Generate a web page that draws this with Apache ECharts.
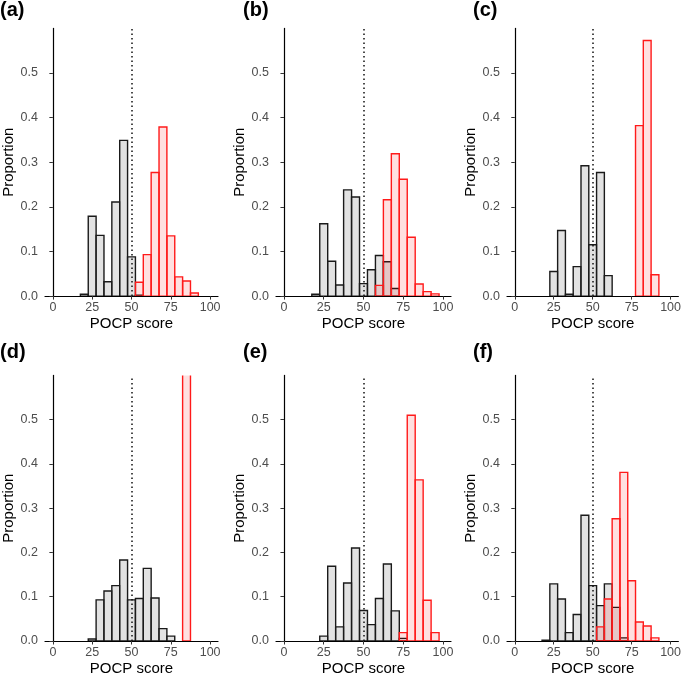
<!DOCTYPE html>
<html>
<head>
<meta charset="utf-8">
<script src="https://cdn.jsdelivr.net/npm/echarts@6/dist/echarts.min.js"></script>
<style>
html,body{margin:0;padding:0;background:#fff;}
#chart{width:684px;height:677px;}
</style>
</head>
<body>
<div id="chart"></div>
<script>
// Bin centres (bin width 5)
const bins = [0,5,10,15,20,25,30,35,40,45,50,55,60,65,70,75,80,85,90,95,100];
const xTicks = [0,25,50,75,100];
const yTicks = [0,0.1,0.2,0.3,0.4,0.5];
const panelLabels = ['(a)','(b)','(c)','(d)','(e)','(f)'];
const threshold = 50;

const grayA = [0,0,0,0,0.004,0.179,0.136,0.032,0.211,0.349,0.088,0.002,0,0,0,0,0,0,0,0,0];
const redA  = [0,0,0,0,0,0,0,0,0,0,0,0.031,0.093,0.277,0.379,0.135,0.043,0.034,0.007,0,0];
const grayB = [0,0,0,0,0.004,0.162,0.078,0.025,0.238,0.222,0.028,0.059,0.091,0.077,0.017,0,0,0,0,0,0];
const redB  = [0,0,0,0,0,0,0,0,0,0,0,0,0.024,0.216,0.319,0.262,0.132,0.027,0.010,0.005,0];
const grayC = [0,0,0,0,0,0.055,0.147,0.004,0.066,0.292,0.115,0.277,0.046,0,0,0,0,0,0,0,0];
const redC  = [0,0,0,0,0,0,0,0,0,0,0,0,0,0,0,0,0.382,0.573,0.048,0,0];
const grayD = [0,0,0,0,0,0.0045,0.093,0.113,0.125,0.183,0.093,0.096,0.164,0.097,0.028,0.011,0,0,0,0,0];
const redD  = [0,0,0,0,0,0,0,0,0,0,0,0,0,0,0,0,0,1.0,0,0,0];
const grayE = [0,0,0,0,0,0.011,0.169,0.032,0.131,0.210,0.069,0.037,0.096,0.174,0.068,0.006,0,0,0,0,0];
const redE  = [0,0,0,0,0,0,0,0,0,0,0,0,0,0,0,0.019,0.510,0.364,0.092,0.019,0];
const grayF = [0,0,0,0,0.002,0.129,0.095,0.019,0.060,0.284,0.125,0.080,0.129,0.076,0.007,0,0,0,0,0,0];
const redF  = [0,0,0,0,0,0,0,0,0,0,0,0.032,0.095,0.276,0.381,0.136,0.043,0.034,0.007,0,0];

const grays = [grayA,grayB,grayC,grayD,grayE,grayF];
const reds  = [redA,redB,redC,redD,redE,redF];

const colLefts = [43, 276, 507];
const rowTops = [28.4, 375.4];
const panelW = 175, panelH = 267.7;
const labelX = [0, 243, 473];
const labelY = [11, 353];

const font = 'Liberation Sans, Arial, Helvetica, sans-serif';

function makeRender(fill, stroke) {
  return function (params, api) {
    const x = api.value(0), y = api.value(1);
    if (!(y > 0)) return null;
    const p0 = api.coord([x - 2.5, y]);
    const p1 = api.coord([x + 2.5, 0]);
    return {
      type: 'rect',
      shape: { x: p0[0], y: p0[1], width: p1[0] - p0[0], height: p1[1] - p0[1] },
      style: { fill: fill, stroke: stroke, lineWidth: 1.4 }
    };
  };
}

const grid = [], xAxis = [], yAxis = [], series = [], graphic = [];
for (let i = 0; i < 6; i++) {
  const r = Math.floor(i / 3), c = i % 3;
  grid.push({ left: colLefts[c], top: rowTops[r], width: panelW, height: panelH });
  xAxis.push({
    type: 'value', gridIndex: i, min: -5, max: 105,
    name: 'POCP score', nameLocation: 'middle', nameGap: 20,
    nameTextStyle: { color: '#000', fontSize: 15, fontFamily: font },
    axisLine: { show: true, lineStyle: { color: '#000', width: 1.2 } },
    axisTick: { show: true, length: 3.5, lineStyle: { color: '#333', width: 1 }, customValues: xTicks },
    axisLabel: { color: '#4d4d4d', fontSize: 12.5, fontFamily: font, margin: 5, customValues: xTicks },
    splitLine: { show: false }
  });
  yAxis.push({
    type: 'value', gridIndex: i, min: 0, max: 0.6,
    name: 'Proportion', nameLocation: 'middle', nameGap: 29,
    nameTextStyle: { color: '#000', fontSize: 15, fontFamily: font },
    axisLine: { show: true, lineStyle: { color: '#000', width: 1.2 } },
    axisTick: { show: true, length: 3.5, lineStyle: { color: '#333', width: 1 }, customValues: yTicks },
    axisLabel: { color: '#4d4d4d', fontSize: 12.5, fontFamily: font, margin: 7,
      customValues: yTicks, formatter: v => v.toFixed(1) },
    splitLine: { show: false }
  });
  series.push({
    type: 'custom', xAxisIndex: i, yAxisIndex: i, clip: true,
    renderItem: makeRender('rgba(190,190,190,0.45)', '#1a1a1a'),
    data: bins.map((b, k) => [b, grays[i][k]]),
    z: 2
  });
  series.push({
    type: 'custom', xAxisIndex: i, yAxisIndex: i, clip: true,
    renderItem: makeRender('rgba(255,0,0,0.12)', '#ff1a1a'),
    data: bins.map((b, k) => [b, reds[i][k]]),
    z: 3,
    markLine: {
      silent: true, symbol: 'none', label: { show: false },
      lineStyle: { color: '#111', width: 1.5, type: [1.5, 3] },
      data: [[{ coord: [threshold, 0] }, { coord: [threshold, 0.6] }]]
    }
  });
  graphic.push({
    type: 'text', left: labelX[c], top: labelY[r] - 11,
    style: { text: panelLabels[i], font: 'bold 20px ' + font, fill: '#000' }
  });
}

const chart = echarts.init(document.getElementById('chart'), null, { renderer: 'canvas' });
chart.setOption({
  animation: false,
  backgroundColor: '#fff',
  grid, xAxis, yAxis, series, graphic
});
</script>
</body>
</html>
